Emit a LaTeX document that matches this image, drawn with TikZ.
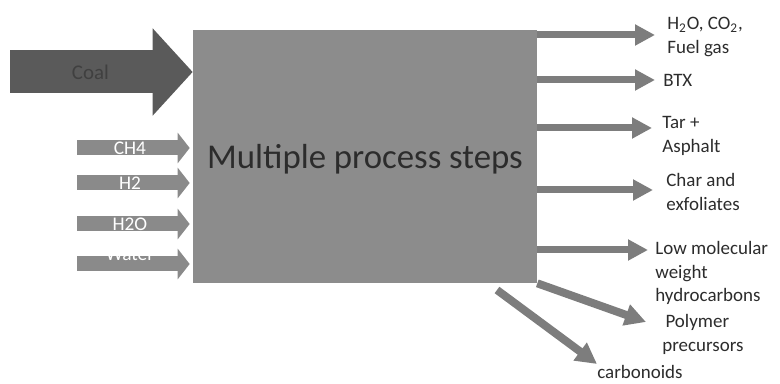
\documentclass[tikz,border=0pt]{standalone}
\usepackage{fontspec}
\setmainfont{Carlito}
\usetikzlibrary{arrows.meta}

\definecolor{boxgray}{HTML}{8C8C8C}
\definecolor{coalgray}{HTML}{5A5A5A}
\definecolor{ingray}{HTML}{8A8A8A}
\definecolor{outgray}{HTML}{7D7D7D}
\definecolor{textdark}{HTML}{2C2C2C}

\begin{document}
\begin{tikzpicture}[x=0.02cm, y=-0.02cm,
    box/.style={fill=boxgray, minimum width=6.88cm, minimum height=5.06cm, inner sep=0pt,
      text=textdark, text depth=0pt, font=\fontsize{19.8}{24}\selectfont},
    coalarrow/.style={draw=coalgray, line width=0.86cm, -{Triangle[length=0.8cm 0 0, width=1.7cm 0 0]}},
    inarrow/.style={draw=ingray, line width=0.3cm, -{Triangle[length=0.24cm 0 0, width=0.6cm 0 0]}},
    outarrow/.style={draw=outgray, line width=0.14cm, -{Triangle[length=0.4cm 0 0, width=0.4cm 0 0]}},
    slantarrow/.style={draw=outgray, line width=0.16cm, -{Triangle[length=0.42cm 0 0, width=0.42cm 0 0]}},
    outlabel/.style={anchor=west, align=left, inner sep=0pt, text=textdark, font=\fontsize{10.8}{13.6}\selectfont}]
    \useasboundingbox (0,0) rectangle (780,384);

    % process block
    \node[box] (steps) at (365,156.5) {Multiple process steps};

    % feed
    \coordinate (coalin) at (10,72);
    \draw[coalarrow] (coalin) -- (coalin -| steps.west)
        node[pos=0.44, text=black!75, font=\fontsize{11.9}{14}\selectfont] (coal) {Coal};
    \foreach \y/\nm/\lbl/\dy in {148/ch4/CH4/0, 183/h2/H2/0, 224/h2o/H2O/0, 264/water/Water/-10} {
        \coordinate (in\nm) at (77,\y);
        \draw[inarrow] (in\nm) -- ([xshift=-0.06cm]in\nm -| steps.west)
            node[pos=0.47, yshift=-\dy*0.02cm, text=white, font=\fontsize{11}{13}\selectfont] {\lbl};
    }

    % products
    \node[outlabel] (fuel) at (667,37) {H\textsubscript{2}O, CO\textsubscript{2},\\Fuel gas};
    \node[outlabel] (btx) at (663,80) {BTX};
    \node[outlabel] (tar) at (662,136) {Tar +\\Asphalt};
    \node[outlabel] (char) at (666,192) {Char and\\exfoliates};
    \node[outlabel] (low) at (655,273) {Low molecular\\weight\\hydrocarbons};
    \node[outlabel] (poly) at (662,334) {\,Polymer\\precursors};
    \node[outlabel] (carb) at (597,372) {carbonoids};

    \foreach \y/\tip/\nm in {35/655/fuel, 80/655/btx, 128/652/tar, 190/653/char, 250/648/low} {
        \coordinate (t\nm) at (\tip,\y);
        \draw[outarrow] (steps.east |- t\nm) -- (t\nm);
    }
    \coordinate (tpoly) at (646,322);
    \draw[slantarrow] (steps.south east) -- (tpoly);
    \coordinate (scarb) at (497,290);
    \coordinate (tcarb) at (597,364);
    \draw[slantarrow] (scarb) -- (tcarb);
\end{tikzpicture}
\end{document}
